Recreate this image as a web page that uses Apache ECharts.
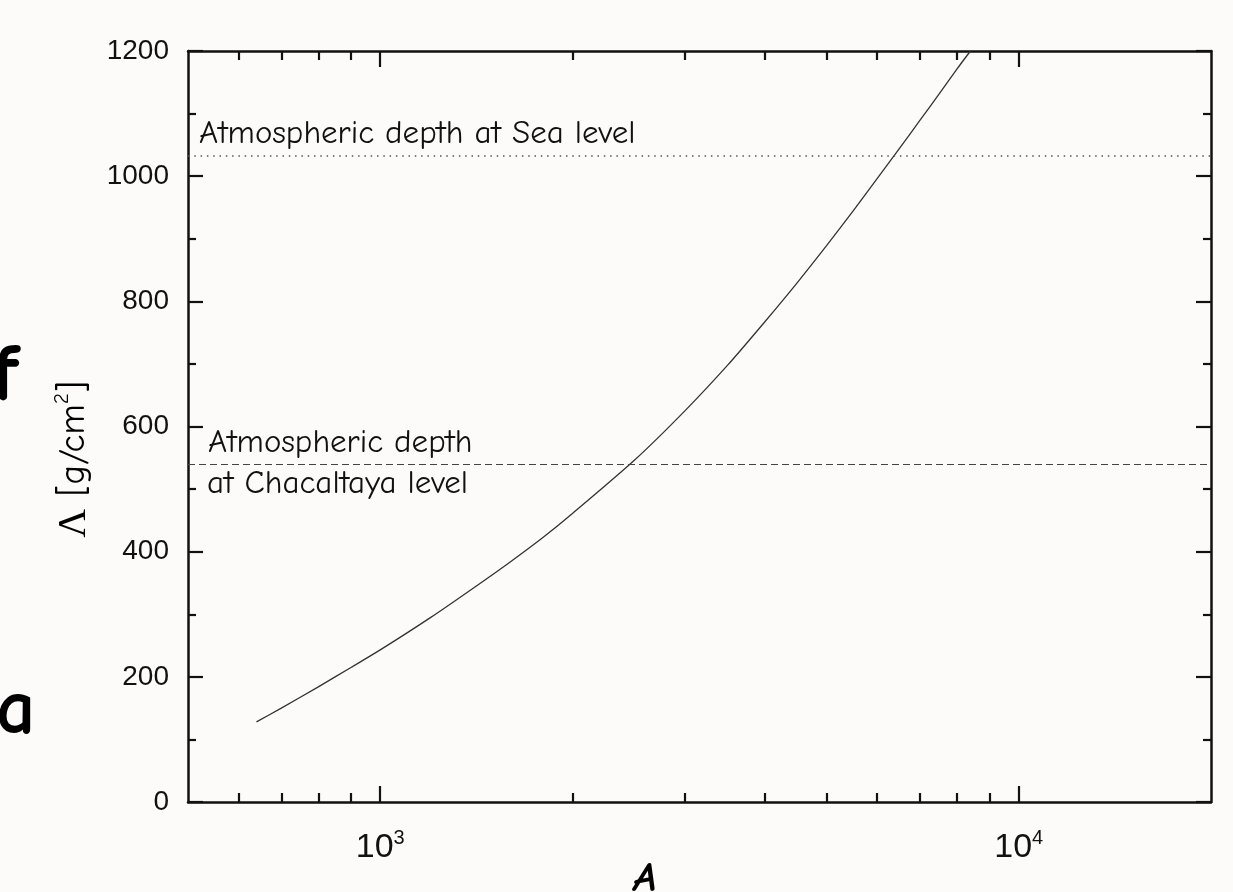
<!DOCTYPE html>
<html>
<head>
<meta charset="utf-8">
<script src="https://cdn.jsdelivr.net/npm/echarts@6/dist/echarts.min.js"></script>
<style>
html,body{margin:0;padding:0;background:#fdfafa;}
#chart{width:1233px;height:892px;}
</style>
</head>
<body>
<div id="chart"></div>
<script>
// ---- data ----
const massNumber  = [640, 700, 800, 900, 1000, 1200, 1400, 1600, 1800, 2000, 2500, 3000, 3500, 4000, 4500, 5000, 5500, 6000, 6500, 7000, 7500, 8000, 8400];
const attenuation = [128, 150, 184, 215, 243, 295, 342, 384, 423, 461, 546, 625, 698, 767, 830, 889, 944, 996, 1044, 1089, 1131, 1171, 1200];
const seaLevelDepth = 1033;
const chacaltayaDepth = 540;
const xRange = [500, 20000];
const xMajorTicks = [1000, 10000];
const xMinorTicks = [600, 700, 800, 900, 2000, 3000, 4000, 5000, 6000, 7000, 8000, 9000];
const yRange = [0, 1200];
const yStep = 200;
const seaLabel = 'Atmospheric depth at Sea level';
const chacLabel1 = 'Atmospheric depth';
const chacLabel2 = 'at Chacaltaya level';
const xName = 'A';
const strayLetters = ['f', 'a'];

const comic = "'Comic Sans MS','Comic Neue','DejaVu Sans',sans-serif";
const axisCol = '#111';

function xAxisDef(pos, ticks, len, showLine, labels) {
  return {
    type: 'log', logBase: 10, position: pos, min: xRange[0], max: xRange[1],
    axisLine: {show: showLine, lineStyle: {color: axisCol, width: 2.5}},
    axisTick: {show: true, inside: true, length: len, customValues: ticks, lineStyle: {color: axisCol, width: 2.2}},
    minorTick: {show: false},
    splitLine: {show: false},
    axisLabel: labels ? {
      show: true, customValues: xMajorTicks, margin: 26,
      formatter: v => '{b|10}{s|' + Math.round(Math.log10(v)) + '}',
      rich: {
        b: {fontSize: 34, lineHeight: 40, fontFamily: 'Liberation Sans', color: axisCol},
        s: {fontSize: 20, lineHeight: 12, verticalAlign: 'top', fontFamily: 'Liberation Sans', color: axisCol}
      }
    } : {show: false},
    name: labels ? xName : '',
    nameLocation: 'middle', nameGap: 56, nameMoveOverlap: false,
    nameTextStyle: {fontSize: 42, fontStyle: 'italic', fontWeight: 'bold', fontFamily: comic, color: '#000', padding: [0, 109, 0, 0]}
  };
}
function yAxisDef(pos, labels) {
  return {
    type: 'value', position: pos, min: yRange[0], max: yRange[1], interval: yStep,
    axisLine: {show: true, lineStyle: {color: axisCol, width: 2.5}},
    axisTick: {show: true, inside: true, length: 15, lineStyle: {color: axisCol, width: 2.2}},
    minorTick: {show: true, splitNumber: 2, length: 8, lineStyle: {color: axisCol, width: 2.2}},
    splitLine: {show: false},
    axisLabel: labels ? {show: true, margin: 19, fontSize: 28, fontFamily: 'Liberation Sans', color: axisCol, formatter: v => String(v)} : {show: false},
    name: labels ? '{L|Λ}{t| [g/cm}{s|2}{t|]}' : '',
    nameLocation: 'middle', nameRotate: 90, nameGap: 92, nameMoveOverlap: false,
    nameTextStyle: {
      padding: [0, 66, 0, 0],
      rich: {
        L: {fontSize: 40, fontFamily: 'Liberation Serif', color: '#000', lineHeight: 44},
        t: {fontSize: 37, fontFamily: comic, color: '#000', lineHeight: 44},
        s: {fontSize: 21, fontFamily: comic, color: '#000', lineHeight: 16, verticalAlign: 'top'}
      }
    }
  };
}

const chart = echarts.init(document.getElementById('chart'), null, {renderer: 'canvas'});
const lblStyle = {fontSize: 33, fontFamily: comic, color: '#111'};
chart.setOption({
  backgroundColor: '#fdfafa',
  animation: false,
  grid: {left: 188, right: 22, top: 51, bottom: 90, containLabel: false, outerBoundsMode: 'none'},
  xAxis: [
    xAxisDef('bottom', xMajorTicks, 16, true, true),
    xAxisDef('bottom', xMinorTicks, 9, false, false),
    xAxisDef('top', xMajorTicks, 16, true, false),
    xAxisDef('top', xMinorTicks, 9, false, false)
  ],
  yAxis: [yAxisDef('left', true), yAxisDef('right', false)],
  graphic: [
    {type: 'text', left: -8, top: 336, style: {text: strayLetters[0], fontSize: 82, fontWeight: 'bold', fontFamily: comic, fill: '#000'}},
    {type: 'text', left: -4, top: 672, style: {text: strayLetters[1], fontSize: 78, fontWeight: 'bold', fontFamily: comic, fill: '#000'}}
  ],
  series: [{
    type: 'line', xAxisIndex: 0, yAxisIndex: 0,
    data: massNumber.map((a, i) => [a, attenuation[i]]),
    showSymbol: false, smooth: 0.25,
    lineStyle: {color: '#333', width: 1.3},
    clip: true,
    markLine: {
      silent: true, symbol: 'none', animation: false,
      data: [
        {yAxis: seaLevelDepth, lineStyle: {type: [1.5, 4.8], color: '#555', width: 1.5},
         label: Object.assign({show: true, formatter: seaLabel, position: 'insideStartTop', distance: [11, 5]}, lblStyle)},
        {yAxis: chacaltayaDepth, lineStyle: {type: [7, 4], color: '#444', width: 1.2},
         label: Object.assign({show: true, formatter: chacLabel1, position: 'insideStartTop', distance: [20, 5]}, lblStyle)},
        {yAxis: chacaltayaDepth + 0.001, lineStyle: {color: 'rgba(0,0,0,0)', width: 0},
         label: Object.assign({show: true, formatter: chacLabel2, position: 'insideStartBottom', distance: [19, 3]}, lblStyle)}
      ]
    }
  }]
});
</script>
</body>
</html>
